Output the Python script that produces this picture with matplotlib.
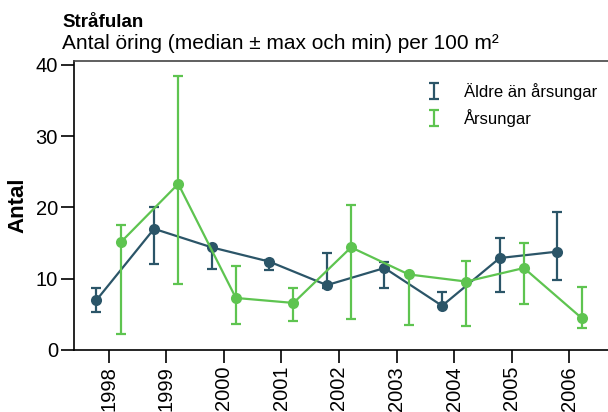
import matplotlib
matplotlib.use("Agg")
import matplotlib.pyplot as plt
import numpy as np

plt.rcParams["font.family"] = ["Liberation Sans", "DejaVu Sans"]

years = [1998, 1999, 2000, 2001, 2002, 2003, 2004, 2005, 2006]

# Äldre än årsungar: median, max, min
aldre_med = [7.0, 17.0, 14.4, 12.4, 9.1, 11.5, 6.2, 12.9, 13.8]
aldre_max = [8.7, 20.0, 14.6, 12.6, 13.6, 12.4, 8.2, 15.7, 19.3]
aldre_min = [5.3, 12.0, 11.4, 11.2, 8.7, 8.7, 6.0, 8.2, 9.8]

# Årsungar: median, max, min
ars_med = [15.1, 23.3, 7.3, 6.6, 14.4, 10.6, 9.6, 11.5, 4.5]
ars_max = [17.6, 38.5, 11.8, 8.7, 20.4, 10.7, 12.5, 15.0, 8.9]
ars_min = [2.2, 9.2, 3.7, 4.1, 4.4, 3.5, 3.3, 6.4, 3.1]

DARK = "#2b5568"
GREEN = "#5ec450"
OFFSET = 0.21

fig = plt.figure(figsize=(6.08, 4.12), dpi=100)
ax = fig.add_axes([0.1217, 0.1505, 0.8783, 0.7025])

x = np.array(years, dtype=float)


def draw(xpos, med, vmax, vmin, color):
    med = np.array(med)
    err = [med - np.array(vmin), np.array(vmax) - med]
    ax.errorbar(xpos, med, yerr=err, fmt="none", ecolor=color,
                elinewidth=1.6, capsize=3.5, capthick=1.6)
    ax.plot(xpos, med, color=color, lw=1.6, marker="o", markersize=8,
            markeredgewidth=0)


draw(x - OFFSET, aldre_med, aldre_max, aldre_min, DARK)
draw(x + OFFSET, ars_med, ars_max, ars_min, GREEN)

# legend: only the error bar glyph
ax.errorbar([np.nan], [np.nan], yerr=[1], fmt="none", ecolor=DARK,
            elinewidth=1.6, capsize=3.5, capthick=1.6, label="Äldre än årsungar")
ax.errorbar([np.nan], [np.nan], yerr=[1], fmt="none", ecolor=GREEN,
            elinewidth=1.6, capsize=3.5, capthick=1.6, label="Årsungar")
ax.legend(loc="upper left", bbox_to_anchor=(0.63, 0.975), frameon=False,
          fontsize=12, handlelength=1.0, handletextpad=1.3, labelspacing=0.55)

ax.set_xlim(1997.4, 2006.67)
ax.set_ylim(0, 40.6)
ax.set_xticks(years)
ax.set_xticklabels([str(y) for y in years], rotation=90)
ax.set_yticks([0, 10, 20, 30, 40])
ax.tick_params(axis="both", labelsize=14.5, length=9.5, width=1.2,
               color="black", pad=2)

for side in ["left", "bottom", "top"]:
    ax.spines[side].set_linewidth(1.2)
ax.spines["right"].set_visible(False)
ax.spines["top"].set_color("#444444")

ax.set_ylabel("Antal", fontsize=16, fontweight="bold", labelpad=5)

fig.text(0.102, 0.935, "Stråfulan", fontsize=13.5, fontweight="bold")
fig.text(0.102, 0.88, "Antal öring (median ± max och min) per 100 m²",
         fontsize=15)

fig.savefig("out.png", dpi=100)
